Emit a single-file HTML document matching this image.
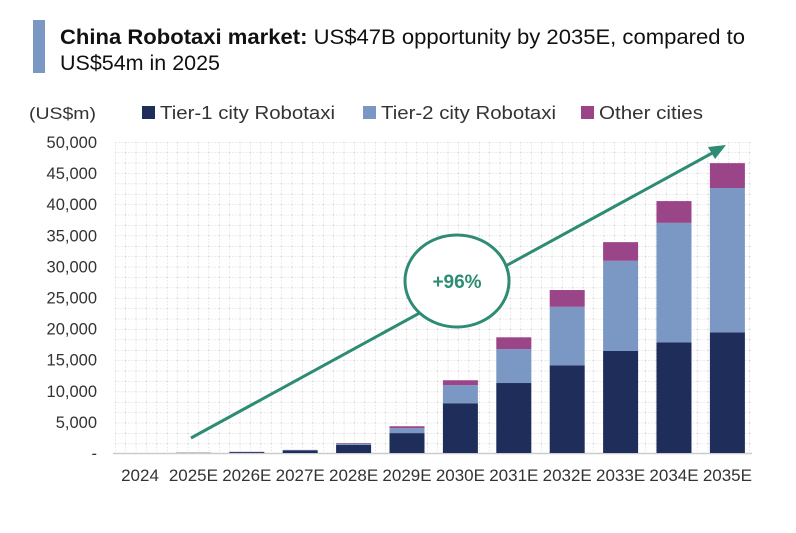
<!DOCTYPE html>
<html><head><meta charset="utf-8">
<style>
body{margin:0;background:#fff;width:796px;height:528px;overflow:hidden;font-family:"Liberation Sans",sans-serif;}
</style></head>
<body>
<svg id="chart" width="796" height="528" xmlns="http://www.w3.org/2000/svg" font-family="Liberation Sans, sans-serif">
<defs>
<pattern id="grid" width="10.4" height="10.4" patternUnits="userSpaceOnUse" x="115" y="142">
<path d="M0 0H10.4M0 0V10.4" stroke="#cfcfcf" stroke-width="1" stroke-dasharray="1.5 1.5" fill="none"/>
</pattern>
</defs>
<rect x="33" y="20" width="12" height="53" fill="#7b98c4"/>
<text x="60" y="44" font-size="21" fill="#111" textLength="685" lengthAdjust="spacingAndGlyphs"><tspan font-weight="bold">China Robotaxi market:</tspan> US$47B opportunity by 2035E, compared to</text>
<text x="60" y="70" font-size="21" fill="#111" textLength="160" lengthAdjust="spacingAndGlyphs">US$54m in 2025</text>
<text x="29" y="119" font-size="17" fill="#333" textLength="67" lengthAdjust="spacingAndGlyphs">(US$m)</text>
<g>
<rect x="142" y="106" width="13" height="13" fill="#1f2d5a"/>
<text x="160" y="119" font-size="18" fill="#333" textLength="175" lengthAdjust="spacingAndGlyphs">Tier-1 city Robotaxi</text>
<rect x="363" y="106" width="13" height="13" fill="#7b98c4"/>
<text x="381" y="119" font-size="18" fill="#333" textLength="175" lengthAdjust="spacingAndGlyphs">Tier-2 city Robotaxi</text>
<rect x="581" y="106" width="13" height="13" fill="#9b4589"/>
<text x="599" y="119" font-size="18" fill="#333" textLength="104" lengthAdjust="spacingAndGlyphs">Other cities</text>
</g>
<rect x="115" y="142" width="637" height="311" fill="url(#grid)"/>
<line x1="113" y1="453.5" x2="752" y2="453.5" stroke="#ccc" stroke-width="1.5"/>
<g id="yaxis"></g>
<g id="bars"></g>
<g id="xaxis"></g>
<g>
<line x1="191" y1="438" x2="716" y2="151" stroke="#2e8b74" stroke-width="3"/>
<polygon points="726,145 708,147 715,159" fill="#2e8b74"/>
<ellipse cx="457" cy="281" rx="52" ry="46" fill="#fff" stroke="#2e8b74" stroke-width="3"/>
<text x="457" y="288" font-size="19" font-weight="bold" fill="#2e8b74" text-anchor="middle">+96%</text>
</g>
</svg>
<script>
const categories=["2024","2025E","2026E","2027E","2028E","2029E","2030E","2031E","2032E","2033E","2034E","2035E"];
const tier1=[0,40,150,400,1300,3200,8000,11250,14100,16400,17800,19400];
const tier2=[0,10,40,80,200,800,2900,5450,9400,14500,19200,23200];
const other=[0,4,10,20,100,300,800,1900,2700,3000,3500,4000];
const yTicks=[0,5000,10000,15000,20000,25000,30000,35000,40000,45000,50000];
const yTickLabels=["-","5,000","10,000","15,000","20,000","25,000","30,000","35,000","40,000","45,000","50,000"];
const NS="http://www.w3.org/2000/svg";
const y0=453,yTop=142,yMax=50000;
function yScale(v){return y0-(v/yMax)*(y0-yTop);}
function xScale(i){return 140+i*53.4;}
const bw=35;
const yg=document.getElementById('yaxis');
yTicks.forEach((t,i)=>{
 const tx=document.createElementNS(NS,'text');
 
 
 tx.setAttribute('x',97);tx.setAttribute('y',yScale(t)+6);
 tx.setAttribute('font-size','16.5');tx.setAttribute('fill','#333');
 tx.setAttribute('text-anchor','end');
 tx.textContent=yTickLabels[i];yg.appendChild(tx);
});
const bg=document.getElementById('bars');
const series=[[tier1,'#1f2d5a','tier1'],[tier2,'#7b98c4','tier2'],[other,'#9b4589','other']];
categories.forEach((c,i)=>{
 let base=0;
 series.forEach(([arr,col,nm])=>{
  const v=arr[i];
  const r=document.createElementNS(NS,'rect');
  
  
  r.setAttribute('x',xScale(i)-bw/2);
  r.setAttribute('y',yScale(base+v));
  r.setAttribute('width',bw);
  r.setAttribute('height',yScale(base)-yScale(base+v));
  r.setAttribute('fill',col);
  bg.appendChild(r);base+=v;
 });
});
const xg=document.getElementById('xaxis');
categories.forEach((c,i)=>{
 const tx=document.createElementNS(NS,'text');
 
 
 tx.setAttribute('x',xScale(i));tx.setAttribute('y',481);
 tx.setAttribute('font-size','17');tx.setAttribute('fill','#333');
 tx.setAttribute('text-anchor','middle');
 tx.textContent=c;xg.appendChild(tx);
});
</script>
</body></html>
